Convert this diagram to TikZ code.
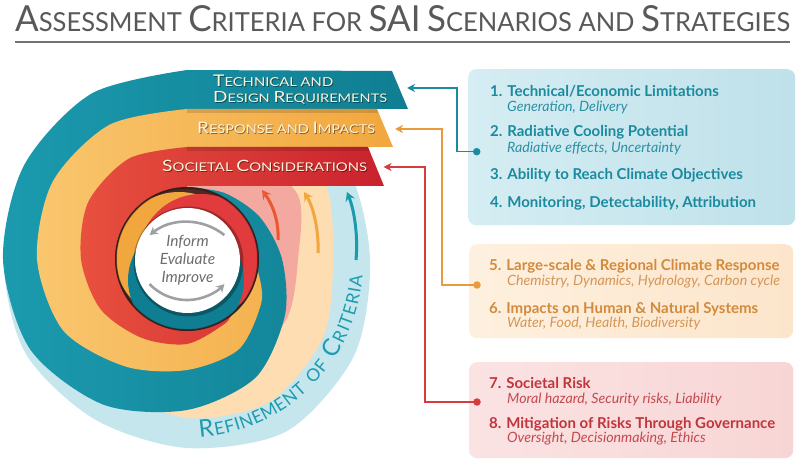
\documentclass[tikz,border=0pt]{standalone}
\usepackage{fontspec}
\setmainfont{Lato}
\usetikzlibrary{arrows.meta}
\definecolor{tealc}{HTML}{1B9AAE}
\definecolor{tealdk}{HTML}{107E92}
\definecolor{orc}{HTML}{F2A73E}
\definecolor{orlt}{HTML}{F9C66E}
\definecolor{redc}{HTML}{E23B3E}
\definecolor{redlt}{HTML}{E8503E}
\definecolor{reddk}{HTML}{C9222E}
\definecolor{lblue}{HTML}{C4E6EC}
\definecolor{peach}{HTML}{FDDDB1}
\definecolor{pinkc}{HTML}{F3A9A0}
\definecolor{holec}{HTML}{4A2A26}
\definecolor{titlec}{HTML}{58595B}
\definecolor{bantext}{HTML}{FFF3DA}
\definecolor{grayarr}{HTML}{9EA0A3}
\definecolor{graytxt}{HTML}{6D6E71}
\definecolor{refc}{HTML}{1E9BB0}
\definecolor{tA}{HTML}{1A8A9E}
\definecolor{tAs}{HTML}{2A90A4}
\definecolor{tB}{HTML}{D38A3A}
\definecolor{tBs}{HTML}{D39656}
\definecolor{tC}{HTML}{C0353B}
\definecolor{tCs}{HTML}{C44A4E}
\definecolor{cA}{HTML}{1A8CA2}
\definecolor{cB}{HTML}{E99A3C}
\definecolor{cC}{HTML}{D63C3E}
\definecolor{boxAa}{HTML}{D5EDF3}
\definecolor{boxAb}{HTML}{BFE1EA}
\definecolor{boxBa}{HTML}{FEF0DF}
\definecolor{boxBb}{HTML}{FCE5CB}
\definecolor{boxCa}{HTML}{FBE3E3}
\definecolor{boxCb}{HTML}{F8D5D5}
\newcommand\BL[2][1.3]{\scalebox{#1}{#2}}
\tikzset{
  bant/.style={anchor=base west, inner sep=0pt, text=bantext, font=\fontsize{11.5}{12}\selectfont},
  bansh/.style={anchor=base west, inner sep=0pt, text=black, opacity=0.45, font=\fontsize{11.5}{12}\selectfont},
  bhead/.style={anchor=base west, inner sep=0pt, font=\fontsize{15}{16}\selectfont\bfseries},
  bsub/.style={anchor=base west, inner sep=0pt, font=\fontsize{14.2}{15}\selectfont\itshape},
  cbox/.style={anchor=north west, rounded corners=8pt, inner sep=0pt},
  dot/.style={circle, inner sep=0pt, minimum size=7.5pt},
  conn/.style={line width=1.6pt, -{Stealth[length=8pt,width=8pt,inset=2.5pt]}},
  refarr/.style={line width=3pt, -{Stealth[length=9pt,width=10pt,inset=3.5pt]}},
  cyc/.style={grayarr, line width=2.6pt, -{Stealth[length=8pt,width=9pt]}},
  refL/.style={anchor=base, inner sep=0pt, text=refc, font=\fontsize{24}{24}\selectfont},
  refS/.style={anchor=base, inner sep=0pt, text=refc, font=\fontsize{17.5}{18}\selectfont},
}
\begin{document}
\begin{tikzpicture}[x=1pt,y=-1pt]
\useasboundingbox (0,0) rectangle (800,462);
\fill[white] (0,0) rectangle (800,462);

% title
\node[anchor=base west, inner sep=0pt, text=titlec] (title) at (15,32)
  {\resizebox{775pt}{26pt}{\fontsize{26.5}{27}\selectfont\BL[1.37]{A}SSESSMENT \BL[1.37]{C}RITERIA FOR \BL[1.37]{SAI} \BL[1.37]{S}CENARIOS AND \BL[1.37]{S}TRATEGIES}};
\coordinate (rl) at (15,42);
\coordinate (rr) at (790,42);
\draw[titlec!85, line width=1.6pt] (rl) -- (rr);

\begin{scope}[shift={(187,259)}]
% refinement bands
\fill[lblue] plot[smooth cycle] coordinates {(0:183) (-30:185) (-60:185) (-90:180) (-120:182) (-150:180) (-180:183) (-210:187) (-240:185) (-270:189) (-300:199) (-330:193)};
\fill[peach] plot[smooth cycle] coordinates {(0:146) (-30:158) (-60:150) (-90:140) (-120:140) (-150:140) (-180:140) (-210:140) (-240:145) (-270:159) (-300:165) (-330:157)};
\fill[pinkc] plot[smooth cycle] coordinates {(0:111) (-30:128) (-60:120) (-90:110) (-120:100) (-150:100) (-180:100) (-210:100) (-240:100) (-270:110) (-300:120) (-330:116)};
\end{scope}

% refinement arrows
\coordinate (ra0) at (278,240); \coordinate (ra1) at (262,190);
\coordinate (oa0) at (318,253); \coordinate (oa1) at (304,192);
\coordinate (ta0) at (356,260); \coordinate (ta1) at (347,192);
\draw[refarr, draw=redlt!85!orange, color=redlt!85!orange] (ra0) .. controls (279,222) and (273,205) .. (ra1);
\draw[refarr, draw=orc, color=orc] (oa0) .. controls (319,232) and (314,208) .. (oa1);
\draw[refarr, draw=tealc, color=tealc] (ta0) .. controls (358,238) and (355,212) .. (ta1);

\begin{scope}[shift={(187,259)}]
% teal spiral band
\shade[left color=tealc, right color=tealdk] (205,-188) -- (0,-189) -- plot[smooth] coordinates {(-90:189) (-120:191) (-150:188) (-180:184) (-210:181) (-240:168) (-270:151) (-300:137) (-330:113) (-360:95) (-390:84) (-420:76) (-450:72)} -- (0,-150) -- (221,-150) -- cycle;
% orange spiral band
\shade[left color=orlt, right color=orc] (190,-150) -- plot[smooth] coordinates {(-90:150) (-120:155) (-150:155) (-180:150) (-210:143) (-240:124) (-270:111) (-300:104) (-330:86) (-350:72)} -- (0,0) -- (0,-112) -- (206,-112) -- cycle;
% red spiral band
\shade[left color=redlt, right color=reddk] (181,-112) -- plot[smooth] coordinates {(-90:112) (-120:116) (-150:114) (-180:106) (-210:100) (-240:91) (-270:85) (-300:75) (-310:70)} -- (0,0) -- (0,-73) -- (197,-73) -- cycle;
% banner shadows
\fill[black, opacity=0.13] (0,-150) -- (190,-150) -- (191.7,-146) -- (0,-146) -- cycle;
\fill[black, opacity=0.13] (0,-112) -- (181,-112) -- (182.7,-108) -- (0,-108) -- cycle;

% centre hole and inner swirl
\fill[holec] (0,0) circle[radius=72];
\begin{scope}
  \clip (0,0) circle[radius=70.5];
  \fill[orc] (-8,-3) circle[radius=64];
  \fill[redc] (14,-3) circle[radius=62];
  \fill[tealdk] (-1,21) circle[radius=58];
\end{scope}
\draw[black, opacity=0.25, line width=2pt] (0,0) circle[radius=71];
\fill[black, opacity=0.3] (1.5,2.5) circle[radius=55];
\node[circle, fill=white, minimum size=105pt, inner sep=0pt] (core) at (0.5,1.5) {};
\node[font=\fontsize{15.5}{18}\selectfont\itshape, text=graytxt, align=center, inner sep=0pt] (ctext) at (0.5,1) {Inform\\Evaluate\\Improve};
\draw[cyc] (0,23) ++(-51.5:60) arc[start angle=-51.5, end angle=-128.5, radius=60];
\draw[cyc] (0,-11) ++(136:52) arc[start angle=136, end angle=44, radius=52];
\end{scope}

% banner texts
\node[bansh] (sh1) at (213.8,87.8) {\resizebox{120pt}{11.5pt}{\BL{T}ECHNICAL AND}};
\node[bant] (b1a) at (213,87) {\resizebox{120pt}{11.5pt}{\BL{T}ECHNICAL AND}};
\node[bansh] (sh2) at (213.8,103.8) {\resizebox{174pt}{11pt}{\BL{D}ESIGN \BL{R}EQUIREMENTS}};
\node[bant] (b1b) at (213,103) {\resizebox{174pt}{11pt}{\BL{D}ESIGN \BL{R}EQUIREMENTS}};
\node[bansh] (sh3) at (197.8,134.8) {\resizebox{178pt}{11.3pt}{\BL{R}ESPONSE AND \BL{I}MPACTS}};
\node[bant] (b2) at (197,134) {\resizebox{178pt}{11.3pt}{\BL{R}ESPONSE AND \BL{I}MPACTS}};
\node[bansh] (sh4) at (162.8,172.8) {\resizebox{205pt}{11.3pt}{\BL{S}OCIETAL \BL{C}ONSIDERATIONS}};
\node[bant] (b3) at (162,172) {\resizebox{205pt}{11.3pt}{\BL{S}OCIETAL \BL{C}ONSIDERATIONS}};

% refinement of criteria text, letter by letter along the arc
\begin{scope}[shift={(187,262)}]
\foreach \ch/\a/\st [count=\k] in {R/83.41/refL, E/79.02/refS, F/75.48/refS, I/72.82/refS, N/69.62/refS, E/65.57/refS, M/61.18/refS, E/56.78/refS, N/52.73/refS, T/48.58/refS, O/41.86/refS, F/37.72/refS, C/30.82/refL, R/25.99/refS, I/22.97/refS, T/20.13/refS, E/16.41/refS, R/12.54/refS, I/9.53/refS, A/6.34/refS}
  \node[\st, rotate=90-\a] (rc\k) at (\a:176) {\ch};
\end{scope}

% criteria boxes
\node[cbox, minimum width=327pt, minimum height=156pt, left color=boxAa, right color=boxAb] (boxA) at (468,69) {};
\node[cbox, minimum width=324pt, minimum height=94pt, left color=boxBa, right color=boxBb] (boxB) at (469,244) {};
\node[cbox, minimum width=324pt, minimum height=96pt, left color=boxCa, right color=boxCb] (boxC) at (469,362) {};

\node[bhead, text=tA] (l1) at (490,97) {1. Technical/Economic Limitations};
\node[bsub, text=tAs] (s1) at (507,111.5) {Generation, Delivery};
\node[bhead, text=tA] (l2) at (490,137) {2. Radiative Cooling Potential};
\node[bsub, text=tAs] (s2) at (507,153) {Radiative effects, Uncertainty};
\node[bhead, text=tA] (l3) at (490,180) {3. Ability to Reach Climate Objectives};
\node[bhead, text=tA] (l4) at (490,207.5) {4. Monitoring, Detectability, Attribution};

\node[bhead, text=tB] (l5) at (489,271) {5. Large-scale \& Regional Climate Response};
\node[bsub, text=tBs] (s5) at (507,285.5) {Chemistry, Dynamics, Hydrology, Carbon cycle};
\node[bhead, text=tB] (l6) at (489,313) {6. Impacts on Human \& Natural Systems};
\node[bsub, text=tBs] (s6) at (507,327) {Water, Food, Health, Biodiversity};

\node[bhead, text=tC] (l7) at (489,388) {7. Societal Risk};
\node[bsub, text=tCs] (s7) at (507,403) {Moral hazard, Security risks, Liability};
\node[bhead, text=tC] (l8) at (489,428) {8. Mitigation of Risks Through Governance};
\node[bsub, text=tCs] (s8) at (507,442.5) {Oversight, Decisionmaking, Ethics};

% connectors
\node[dot, fill=cA] (d1) at (476.7,151.7) {};
\node[dot, fill=cB] (d2) at (477,285) {};
\node[dot, fill=cC] (d3) at (477,402) {};
\coordinate (v1) at (457,88);  \coordinate (tip1) at (407,88);
\coordinate (v2) at (442,129); \coordinate (tip2) at (395,129);
\coordinate (v3) at (425,167); \coordinate (tip3) at (383.5,167);
\draw[conn, draw=cA, color=cA] (d1.center) -| (v1) -- (tip1);
\draw[conn, draw=cB, color=cB] (d2.center) -| (v2) -- (tip2);
\draw[conn, draw=cC, color=cC] (d3.center) -| (v3) -- (tip3);
\end{tikzpicture}
\end{document}
